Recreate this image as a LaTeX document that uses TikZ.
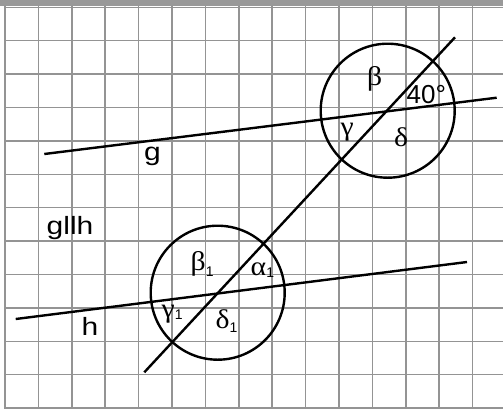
\documentclass[tikz,border=0pt]{standalone}
\usepackage{fontspec}
\setmainfont{Liberation Sans}
\newfontfamily\grk{Liberation Serif}
\newfontfamily\widesans[FakeStretch=1.2]{Liberation Sans}
\newfontfamily\widegrk[FakeStretch=1.1]{Liberation Serif}
\newcommand{\subone}[1][-4pt]{\raisebox{#1}{\normalfont\fontsize{14}{14}\selectfont 1}}
\begin{document}
\begin{tikzpicture}[x=1pt,y=-1pt,
  gridline/.style={draw=black!42,line width=1.5pt},
  geoline/.style={draw=black,line width=2.4pt},
  lab/.style={inner sep=0pt,anchor=base west,font=\fontsize{26}{26}\selectfont},
  wlab/.style={inner sep=0pt,anchor=base west,font=\widesans\fontsize{25}{25}\selectfont},
  glab/.style={inner sep=0pt,anchor=base west,font=\widegrk\fontsize{27}{27}\selectfont}]
\useasboundingbox (0,0) rectangle (503,408);
\fill[black!40] (0,0) rectangle (503,5.5);
% grid
\foreach \k in {0,...,14} \draw[gridline] ({5+33.4*\k},5.5) -- ({5+33.4*\k},408);
\foreach \k in {0,...,12} \draw[gridline] (4,{7.3+33.4*\k}) -- (503,{7.3+33.4*\k});
% points
\coordinate (S1) at (387.7,110.7);
\coordinate (S2) at (217.7,292.7);
\coordinate (gA) at (44.3,154);
\coordinate (gB) at (496.7,97.7);
\coordinate (hA) at (15.7,319);
\coordinate (hB) at (467,262);
\coordinate (tA) at (144.3,372.3);
\coordinate (tB) at (455,37.3);
% lines
\draw[geoline] (gA) -- (gB);
\draw[geoline] (hA) -- (hB);
\draw[geoline] (tA) -- (tB);
\draw[geoline] (S1) circle[radius=67];
\draw[geoline] (S2) circle[radius=67];
% labels
\node[lab] (l40) at (406.5,103.5) {40°};
\node[glab] (lb) at (367,85) {β};
\node[glab] (lg) at (340.5,135) {γ};
\node[glab] (ld) at (394,146.7) {δ};
\node[wlab] (lgg) at (144,160) {g};
\node[wlab] (lpar) at (46.5,234) {gllh};
\node[wlab] (lh) at (81.5,335) {h};
\node[glab] (lb1) at (190.5,270) {β\subone[-6pt]};
\node[glab] (la1) at (250.5,275) {α\subone[-2pt]};
\node[glab] (lg1) at (161.5,317) {γ\subone[-2pt]};
\node[glab] (ld1) at (215.5,328) {δ\subone[-4pt]};
\end{tikzpicture}
\end{document}
